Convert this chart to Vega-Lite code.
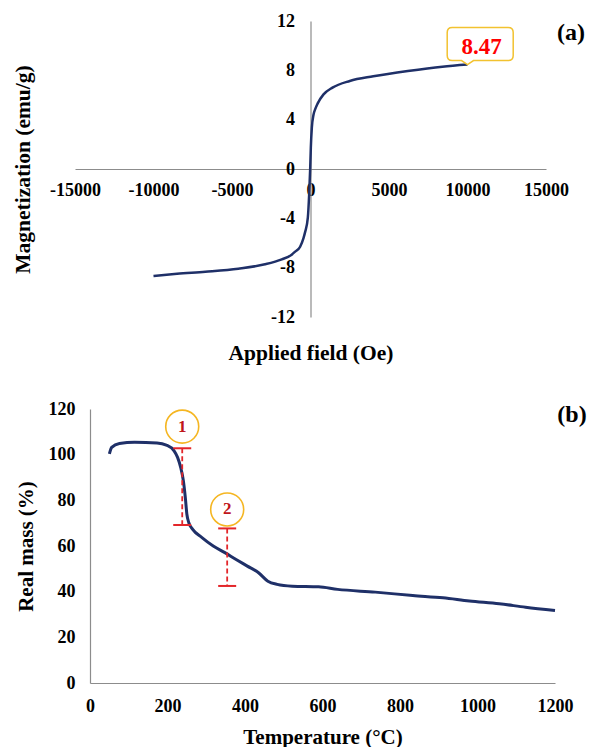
{
  "$schema": "https://vega.github.io/schema/vega-lite/v6.json",
  "padding": {"left": 12, "top": 12, "right": 0, "bottom": 0},
  "spacing": 36,
  "config": {
    "view": {"stroke": null},
    "axis": {
      "domainColor": "#8c8c8c",
      "domainWidth": 1.2,
      "ticks": false,
      "grid": false,
      "labelFont": "Liberation Serif",
      "labelFontWeight": "bold",
      "labelColor": "#000000",
      "labelFlush": false,
      "labelOverlap": false,
      "labelBound": false,
      "titleFont": "Liberation Serif",
      "titleFontWeight": "bold",
      "titleColor": "#000000"
    }
  },
  "datasets": {
    "mag": [
      {"H": -10000, "M": -8.68}, {"H": -8500, "M": -8.5}, {"H": -6700, "M": -8.33},
      {"H": -4600, "M": -8.08}, {"H": -2900, "M": -7.73}, {"H": -1830, "M": -7.33},
      {"H": -1200, "M": -6.95}, {"H": -975, "M": -6.7}, {"H": -660, "M": -6.3},
      {"H": -446, "M": -5.6}, {"H": -340, "M": -5.1}, {"H": -170, "M": -3.95},
      {"H": -85, "M": -2.05}, {"H": -21, "M": 0.0}, {"H": 21, "M": 1.73},
      {"H": 85, "M": 3.35}, {"H": 191, "M": 4.4}, {"H": 300, "M": 4.85},
      {"H": 450, "M": 5.3}, {"H": 830, "M": 6.05}, {"H": 1400, "M": 6.6},
      {"H": 2500, "M": 7.14}, {"H": 4000, "M": 7.52}, {"H": 6200, "M": 7.95},
      {"H": 8400, "M": 8.3}, {"H": 10000, "M": 8.47}
    ],
    "magLabel": [{"H": 10000, "M": 8.47, "t": "8.47"}],
    "panelA": [{"H": 15000, "M": 12, "t": "(a)"}],
    "tga": [
      {"T": 50, "M": 100.3}, {"T": 56, "M": 103.2}, {"T": 76, "M": 104.9},
      {"T": 115, "M": 105.4}, {"T": 173, "M": 105.1}, {"T": 197, "M": 104.2},
      {"T": 217, "M": 101.7}, {"T": 226, "M": 98.8}, {"T": 234, "M": 94.4},
      {"T": 241, "M": 88.5}, {"T": 246, "M": 81.2}, {"T": 250, "M": 73.9},
      {"T": 255, "M": 70.2}, {"T": 265, "M": 67.3}, {"T": 289, "M": 63.7},
      {"T": 318, "M": 60.0}, {"T": 348, "M": 57.1}, {"T": 377, "M": 54.1},
      {"T": 406, "M": 51.2}, {"T": 435, "M": 48.3}, {"T": 459, "M": 44.6},
      {"T": 483, "M": 43.2}, {"T": 522, "M": 42.4}, {"T": 590, "M": 42.1},
      {"T": 639, "M": 41.0}, {"T": 736, "M": 39.8}, {"T": 833, "M": 38.3},
      {"T": 911, "M": 37.3}, {"T": 979, "M": 35.9}, {"T": 1056, "M": 34.7},
      {"T": 1124, "M": 33.2}, {"T": 1200, "M": 31.8}
    ],
    "steps": [
      {"T": 238, "top": 102.8, "bot": 69.2, "cM": 112.3, "n": "1"},
      {"T": 354, "top": 67.7, "bot": 42.5, "cM": 76, "n": "2"}
    ],
    "panelB": [{"T": 1200, "M": 120, "t": "(b)"}]
  },
  "vconcat": [
    {
      "width": 471,
      "height": 296,
      "layer": [
        {
          "data": {"name": "mag"},
          "mark": {"type": "line", "color": "#1F3068", "strokeWidth": 2.5, "interpolate": "monotone"},
          "encoding": {
            "x": {
              "field": "H", "type": "quantitative",
              "scale": {"domain": [-15000, 15000], "nice": false, "zero": false},
              "axis": {
                "title": "Applied field (Oe)",
                "values": [-15000, -10000, -5000, 0, 5000, 10000, 15000],
                "labelExpr": "'' + datum.value",
                "offset": -148,
                "labelPadding": 12,
                "labelFontSize": 18,
                "titleFontSize": 21.5,
                "titlePadding": 143
              }
            },
            "y": {
              "field": "M", "type": "quantitative",
              "scale": {"domain": [-12, 12], "nice": false},
              "axis": {
                "title": "Magnetization (emu/g)",
                "values": [-12, -8, -4, 0, 4, 8, 12],
                "labelExpr": "'' + datum.value",
                "offset": -235.5,
                "labelPadding": 16,
                "labelFontSize": 18,
                "titleFontSize": 21.5,
                "titlePadding": 236
              }
            }
          }
        },
        {
          "data": {"name": "magLabel"},
          "mark": {
            "type": "point",
            "shape": "M-0.306,-0.74 L0.814,-0.74 Q0.914,-0.74 0.914,-0.64 L0.914,-0.18 Q0.914,-0.08 0.814,-0.08 L0.12,-0.08 L0,0 L-0.12,-0.08 L-0.306,-0.08 Q-0.406,-0.08 -0.406,-0.18 L-0.406,-0.64 Q-0.406,-0.74 -0.306,-0.74 Z",
            "size": 10000,
            "filled": true,
            "fill": "#ffffff",
            "stroke": "#F2C230",
            "strokeWidth": 1.5,
            "opacity": 1
          },
          "encoding": {
            "x": {"field": "H", "type": "quantitative"},
            "y": {"field": "M", "type": "quantitative"}
          }
        },
        {
          "data": {"name": "magLabel"},
          "mark": {
            "type": "text", "font": "Liberation Serif", "fontWeight": "bold",
            "fontSize": 23, "color": "#FF0000", "dx": 14, "dy": -18,
            "align": "center", "baseline": "middle"
          },
          "encoding": {
            "x": {"field": "H", "type": "quantitative"},
            "y": {"field": "M", "type": "quantitative"},
            "text": {"field": "t"}
          }
        },
        {
          "data": {"name": "panelA"},
          "mark": {
            "type": "text", "font": "Liberation Serif", "fontWeight": "bold",
            "fontSize": 24, "color": "#000000", "dx": 25, "dy": 12,
            "align": "center", "baseline": "middle"
          },
          "encoding": {
            "x": {"field": "H", "type": "quantitative"},
            "y": {"field": "M", "type": "quantitative"},
            "text": {"field": "t"}
          }
        }
      ]
    },
    {
      "width": 480,
      "height": 274,
      "layer": [
        {
          "data": {"name": "tga"},
          "mark": {"type": "line", "color": "#1F3068", "strokeWidth": 3, "interpolate": "monotone"},
          "encoding": {
            "x": {
              "field": "T", "type": "quantitative",
              "scale": {"domain": [0, 1200], "nice": false, "range": [15, 480]},
              "axis": {
                "title": "Temperature (°C)",
                "values": [0, 200, 400, 600, 800, 1000, 1200],
                "labelExpr": "'' + datum.value",
                "labelPadding": 14,
                "labelFontSize": 18,
                "titleFontSize": 21,
                "titlePadding": 11
              }
            },
            "y": {
              "field": "M", "type": "quantitative",
              "scale": {"domain": [0, 120], "nice": false},
              "axis": {
                "title": "Real mass (%)",
                "values": [0, 20, 40, 60, 80, 100, 120],
                "offset": -15,
                "labelPadding": 15,
                "labelFontSize": 18,
                "titleFontSize": 21,
                "titlePadding": 12
              }
            }
          }
        },
        {
          "data": {"name": "steps"},
          "mark": {"type": "rule", "color": "#E3262A", "strokeWidth": 1.8, "strokeDash": [5, 3]},
          "encoding": {
            "x": {"field": "T", "type": "quantitative"},
            "y": {"field": "top", "type": "quantitative"},
            "y2": {"field": "bot"}
          }
        },
        {
          "data": {"name": "steps"},
          "mark": {"type": "tick", "orient": "horizontal", "color": "#E3262A", "size": 18, "thickness": 2, "opacity": 1},
          "encoding": {
            "x": {"field": "T", "type": "quantitative"},
            "y": {"field": "top", "type": "quantitative"}
          }
        },
        {
          "data": {"name": "steps"},
          "mark": {"type": "tick", "orient": "horizontal", "color": "#E3262A", "size": 18, "thickness": 2, "opacity": 1},
          "encoding": {
            "x": {"field": "T", "type": "quantitative"},
            "y": {"field": "bot", "type": "quantitative"}
          }
        },
        {
          "data": {"name": "steps"},
          "mark": {"type": "point", "shape": "circle", "size": 1089, "filled": true, "fill": "#ffffff", "stroke": "#F5B622", "strokeWidth": 1.6, "opacity": 1},
          "encoding": {
            "x": {"field": "T", "type": "quantitative"},
            "y": {"field": "cM", "type": "quantitative"}
          }
        },
        {
          "data": {"name": "steps"},
          "mark": {"type": "text", "font": "Liberation Serif", "fontWeight": "bold", "fontSize": 17, "color": "#C0161B", "align": "center", "baseline": "middle"},
          "encoding": {
            "x": {"field": "T", "type": "quantitative"},
            "y": {"field": "cM", "type": "quantitative"},
            "text": {"field": "n"}
          }
        },
        {
          "data": {"name": "panelB"},
          "mark": {
            "type": "text", "font": "Liberation Serif", "fontWeight": "bold",
            "fontSize": 24, "color": "#000000", "dx": 17, "dy": 6,
            "align": "center", "baseline": "middle"
          },
          "encoding": {
            "x": {"field": "T", "type": "quantitative"},
            "y": {"field": "M", "type": "quantitative"},
            "text": {"field": "t"}
          }
        }
      ]
    }
  ]
}
